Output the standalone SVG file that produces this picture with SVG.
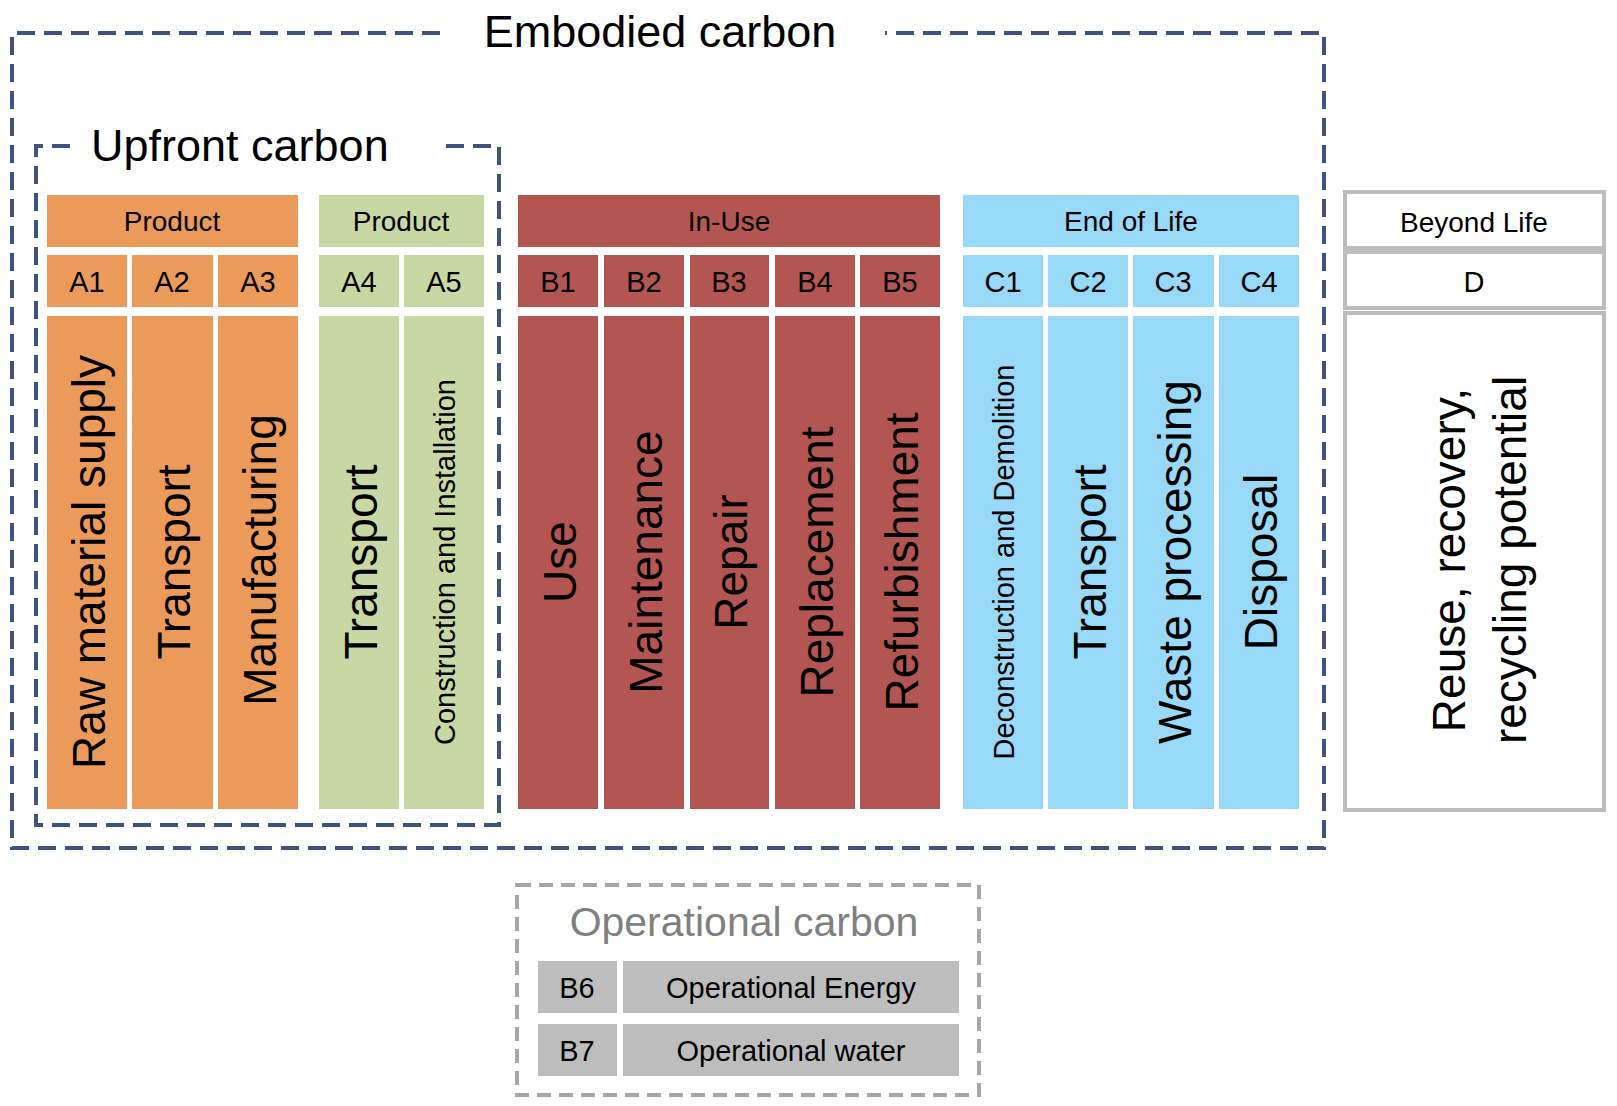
<svg xmlns="http://www.w3.org/2000/svg" width="1617" height="1106" viewBox="0 0 1617 1106">
<style>
text{font-family:"Liberation Sans",Arial,sans-serif;fill:#000}
.or{fill:#EC9A5A}.gr{fill:#C8D8A4}.rd{fill:#B35550}.bl{fill:#97D9F7}.op{fill:#BDBDBD}
.h{font-size:28px;text-anchor:middle}
.c{font-size:29px;text-anchor:middle}
.v{font-size:46px;text-anchor:middle;dominant-baseline:central}
.vs{font-size:29px;text-anchor:middle;dominant-baseline:central}
.dash{fill:none;stroke:#3F5380;stroke-width:4;stroke-dasharray:18 9}
.dbox{fill:#fff;stroke:#BDBDBD;stroke-width:4}
</style>
<g id="connectors"></g>
<g id="embodied">
<path class="dash" d="M440 33 H12 V848 H1324 V33 H885"/>
<text x="660" y="47" style="font-size:45px;text-anchor:middle">Embodied carbon</text>
</g>
<g id="upfront">
<path class="dash" d="M70 146 H36 V825 H499 V146 H446"/>
<text x="91" y="161" style="font-size:45px">Upfront carbon</text>
</g>
<g id="product-a">
<rect class="or" x="47" y="195" width="251" height="52"/>
<text class="h" x="172" y="231">Product</text>
<rect class="or" x="47" y="255" width="80" height="52"/><text class="c" x="87" y="292">A1</text>
<rect class="or" x="132" y="255" width="81" height="52"/><text class="c" x="172" y="292">A2</text>
<rect class="or" x="218" y="255" width="80" height="52"/><text class="c" x="258" y="292">A3</text>
<rect class="or" x="47" y="316" width="80" height="493"/><text class="v" transform="translate(89 562) rotate(-90)">Raw material supply</text>
<rect class="or" x="132" y="316" width="81" height="493"/><text class="v" transform="translate(174 562) rotate(-90)">Transport</text>
<rect class="or" x="218" y="316" width="80" height="493"/><text class="v" transform="translate(260 560) rotate(-90)">Manufacturing</text>
</g>
<g id="product-b">
<rect class="gr" x="319" y="195" width="165" height="52"/>
<text class="h" x="401" y="231">Product</text>
<rect class="gr" x="319" y="255" width="80" height="52"/><text class="c" x="359" y="292">A4</text>
<rect class="gr" x="404" y="255" width="80" height="52"/><text class="c" x="444" y="292">A5</text>
<rect class="gr" x="319" y="316" width="80" height="493"/><text class="v" transform="translate(361 562) rotate(-90)">Transport</text>
<rect class="gr" x="404" y="316" width="80" height="493"/><text class="vs" transform="translate(445 562) rotate(-90)">Construction and Installation</text>
</g>
<g id="in-use">
<rect class="rd" x="518" y="195" width="422" height="52"/>
<text class="h" x="729" y="231">In-Use</text>
<rect class="rd" x="518" y="255" width="80" height="52"/><text class="c" x="558" y="292">B1</text>
<rect class="rd" x="604" y="255" width="80" height="52"/><text class="c" x="644" y="292">B2</text>
<rect class="rd" x="690" y="255" width="79" height="52"/><text class="c" x="729" y="292">B3</text>
<rect class="rd" x="775" y="255" width="80" height="52"/><text class="c" x="815" y="292">B4</text>
<rect class="rd" x="860" y="255" width="80" height="52"/><text class="c" x="900" y="292">B5</text>
<rect class="rd" x="518" y="316" width="80" height="493"/><text class="v" transform="translate(560 562) rotate(-90)">Use</text>
<rect class="rd" x="604" y="316" width="80" height="493"/><text class="v" transform="translate(646 562) rotate(-90)">Maintenance</text>
<rect class="rd" x="690" y="316" width="79" height="493"/><text class="v" transform="translate(731 562) rotate(-90)">Repair</text>
<rect class="rd" x="775" y="316" width="80" height="493"/><text class="v" transform="translate(817 562) rotate(-90)">Replacement</text>
<rect class="rd" x="860" y="316" width="80" height="493"/><text class="v" transform="translate(902 562) rotate(-90)">Refurbishment</text>
</g>
<g id="end-of-life">
<rect class="bl" x="963" y="195" width="336" height="52"/>
<text class="h" x="1131" y="231">End of Life</text>
<rect class="bl" x="963" y="255" width="80" height="52"/><text class="c" x="1003" y="292">C1</text>
<rect class="bl" x="1048" y="255" width="80" height="52"/><text class="c" x="1088" y="292">C2</text>
<rect class="bl" x="1133" y="255" width="81" height="52"/><text class="c" x="1173" y="292">C3</text>
<rect class="bl" x="1219" y="255" width="80" height="52"/><text class="c" x="1259" y="292">C4</text>
<rect class="bl" x="963" y="316" width="80" height="493"/><text class="vs" transform="translate(1004 562) rotate(-90)">Deconstruction and Demolition</text>
<rect class="bl" x="1048" y="316" width="80" height="493"/><text class="v" transform="translate(1090 562) rotate(-90)">Transport</text>
<rect class="bl" x="1133" y="316" width="81" height="493"/><text class="v" transform="translate(1175 562) rotate(-90)">Waste processing</text>
<rect class="bl" x="1219" y="316" width="80" height="493"/><text class="v" transform="translate(1261 562) rotate(-90)">Disposal</text>
</g>
<g id="beyond-life">
<rect class="dbox" x="1345" y="192" width="259" height="56"/>
<text class="h" x="1474" y="232">Beyond Life</text>
<rect class="dbox" x="1345" y="252" width="259" height="56"/>
<text class="c" x="1474" y="292">D</text>
<rect class="dbox" x="1345" y="313" width="259" height="497"/>
<text class="v" transform="translate(1449 560) rotate(-90)">Reuse, recovery,</text>
<text class="v" transform="translate(1510 560) rotate(-90)">recycling potential</text>
</g>
<g id="operational">
<rect x="517" y="885" width="462" height="210" fill="none" stroke="#A6A6A6" stroke-width="4" stroke-dasharray="14 8"/>
<text x="744" y="936" style="font-size:41px;text-anchor:middle;fill:#808080">Operational carbon</text>
<rect class="op" x="538" y="961" width="79" height="52"/><text class="c" x="577" y="998">B6</text>
<rect class="op" x="623" y="961" width="336" height="52"/><text class="c" x="791" y="998">Operational Energy</text>
<rect class="op" x="538" y="1024" width="79" height="52"/><text class="c" x="577" y="1061">B7</text>
<rect class="op" x="623" y="1024" width="336" height="52"/><text class="c" x="791" y="1061">Operational water</text>
</g>
</svg>
